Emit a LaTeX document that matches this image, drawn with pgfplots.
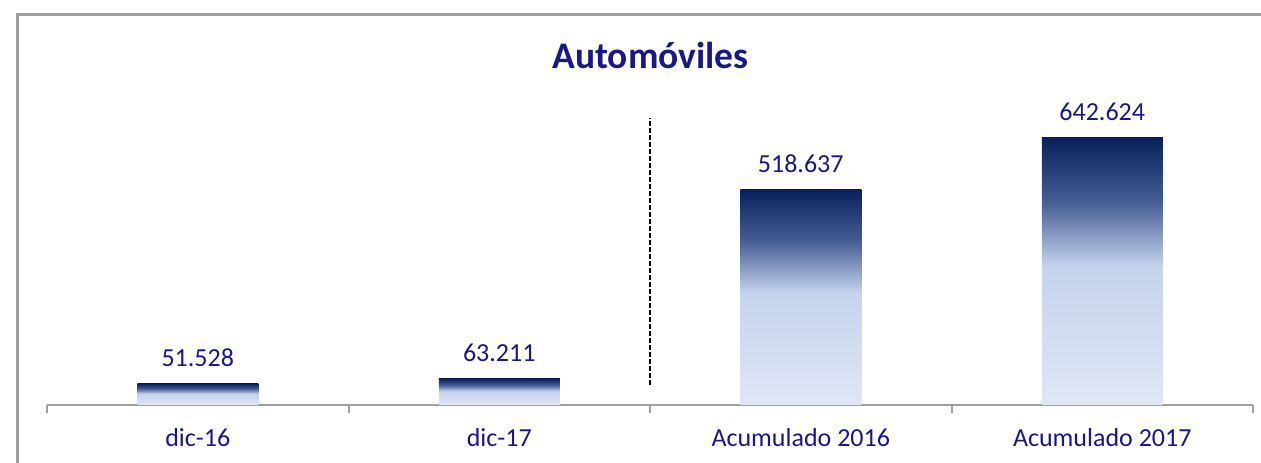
\documentclass[border=0pt]{standalone}
\usepackage{fontspec}
\setmainfont{Carlito}
\usepackage{pgfplots}
\pgfplotsset{compat=1.18}
\definecolor{navytxt}{RGB}{24,24,136}
\definecolor{ctop}{RGB}{8,32,94}
\definecolor{cq}{RGB}{70,94,148}
\definecolor{cmid}{RGB}{197,211,238}
\definecolor{cbot}{RGB}{224,230,244}
\definecolor{framegray}{RGB}{160,160,160}
\pgfdeclareverticalshading{barshade}{100bp}{color(0bp)=(cbot); color(25bp)=(cbot); color(51bp)=(cmid); color(63bp)=(cq); color(75bp)=(ctop); color(100bp)=(ctop)}
\pgfplotsset{
  mybar/.style={ybar, bar width=121pt, bar shift=0pt, draw=none, shade, shading=barshade,
  nodes near coords,
  nodes near coords style={anchor=south, inner sep=0pt, yshift=17pt, text=navytxt, font=\fontsize{26}{30}\selectfont,
    /pgf/number format/.cd, fixed, precision=0, 1000 sep={.}, assume math mode=true}}
}
\begin{document}
\begin{tikzpicture}[x=1pt,y=1pt]
\path[use as bounding box] (0,0) rectangle (1261,463);
\draw[framegray, line width=3pt] (17,-5) -- (17,448) -- (1270,448);
\node[anchor=base, text=navytxt, font=\fontsize{37.5}{40}\selectfont\bfseries] at (650.5,394) {Automóviles};
\begin{axis}[
  at={(47pt,58pt)}, anchor=south west,
  scale only axis, width=1206pt, height=305pt,
  xmin=-0.5, xmax=3.5, ymin=0, ymax=734000,
  axis x line=bottom, axis y line=none,
  axis line style={-, framegray, line width=2.5pt},
  xtick={0,1,2,3},
  xticklabels={dic-16, dic-17, Acumulado 2016, Acumulado 2017},
  major tick length=0pt,
  minor xtick={-0.5,0.5,1.5,2.5,3.5},
  minor tick length=8pt,
  tick align=outside,
  minor tick style={framegray, line width=2pt},
  xticklabel style={anchor=base, inner sep=0pt, yshift=-42pt, text=navytxt, font=\fontsize{26}{30}\selectfont},
  clip=false,
]
\addplot[mybar] coordinates {(0,51528)};
\addplot[mybar] coordinates {(1,63211)};
\addplot[mybar] coordinates {(2,518637)};
\addplot[mybar] coordinates {(3,642624)};
\addplot[black, line width=2.8pt, dash pattern=on 5pt off 2pt, forget plot] coordinates {(1.5,48000) (1.5,691000)};
\end{axis}
\end{tikzpicture}
\end{document}
